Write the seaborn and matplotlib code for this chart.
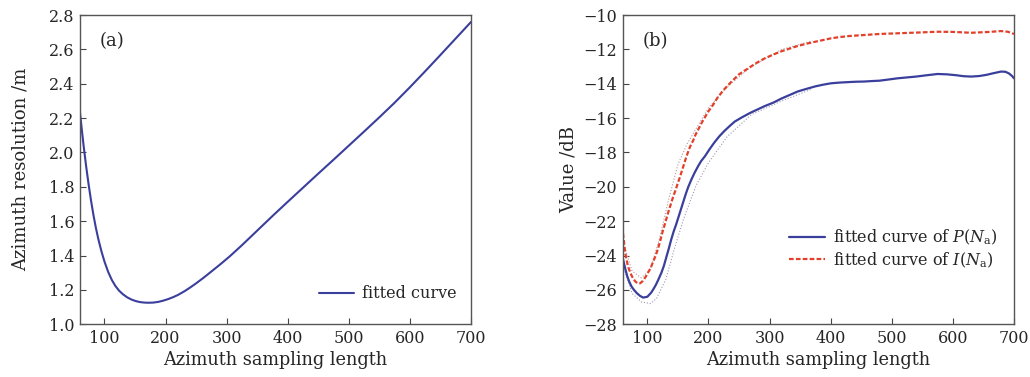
import matplotlib
matplotlib.use("Agg")
import matplotlib.pyplot as plt
import seaborn as sns
import pandas as pd

# panel (a): azimuth resolution vs sampling length
res_x = [60, 63, 66, 70, 74, 78, 82, 86, 90, 95, 100, 106, 112, 118, 124, 130, 137, 144,
         151, 158, 165, 172, 180, 188, 196, 204, 212, 220, 230, 240, 250, 262, 275, 290,
         305, 325, 350, 375, 400, 425, 450, 475, 500, 525, 550, 575, 600, 625, 650, 675,
         700]
res_y = [2.23, 2.13, 2.035, 1.92, 1.815, 1.72, 1.635, 1.56, 1.495, 1.425, 1.365, 1.305,
         1.258, 1.222, 1.195, 1.175, 1.157, 1.144, 1.135, 1.129, 1.126, 1.125, 1.126,
         1.13, 1.137, 1.146, 1.157, 1.17, 1.19, 1.213, 1.238, 1.27, 1.307, 1.35, 1.395,
         1.46, 1.545, 1.63, 1.713, 1.795, 1.877, 1.958, 2.04, 2.122, 2.205, 2.29, 2.38,
         2.473, 2.568, 2.664, 2.76]

# panel (b): fitted P(Na) and I(Na)
p_x = [60, 64, 67, 70, 74, 78, 83, 88, 93, 100, 106, 110, 114, 118, 123, 127, 131, 135,
       139, 143, 147, 151, 155, 159, 163, 167, 172, 177, 183, 188, 194, 202, 210, 218,
       226, 235, 243, 255, 268, 280, 292, 306, 320, 333, 346, 360, 375, 388, 401, 415,
       430, 442, 455, 468, 480, 495, 510, 525, 540, 558, 575, 590, 605, 618, 630, 643,
       655, 667, 679, 686, 692, 697, 700]
p_y = [-24.2, -24.8, -25.2, -25.5, -25.8, -26.0, -26.2, -26.35, -26.45, -26.4, -26.17,
       -25.95, -25.7, -25.4, -25.0, -24.6, -24.1, -23.6, -23.07, -22.6, -22.2, -21.75,
       -21.3, -20.85, -20.4, -20.0, -19.58, -19.2, -18.8, -18.5, -18.23, -17.8, -17.4,
       -17.05, -16.75, -16.45, -16.2, -15.95, -15.7, -15.5, -15.3, -15.1, -14.85, -14.65,
       -14.45, -14.3, -14.15, -14.05, -13.97, -13.93, -13.9, -13.88, -13.87, -13.84,
       -13.82, -13.75, -13.68, -13.63, -13.58, -13.5, -13.43, -13.45, -13.5, -13.56,
       -13.58, -13.55, -13.48, -13.38, -13.29, -13.3, -13.4, -13.55, -13.68]
i_x = [60, 64, 68, 72, 76, 80, 84, 88, 92, 97, 101, 105, 109, 113, 117, 121, 125, 130,
       134, 138, 142, 146, 150, 154, 158, 162, 166, 170, 175, 179, 183, 190, 200, 208,
       215, 225, 237, 250, 265, 278, 292, 306, 320, 333, 346, 360, 375, 388, 401, 415,
       430, 455, 480, 510, 540, 575, 600, 630, 660, 679, 690, 700]
i_y = [-22.7, -23.9, -24.6, -25.0, -25.3, -25.5, -25.62, -25.62, -25.5, -25.25, -25.0,
       -24.75, -24.4, -24.05, -23.65, -23.15, -22.6, -22.0, -21.5, -21.05, -20.6, -20.2,
       -19.77, -19.35, -18.9, -18.45, -18.03, -17.65, -17.3, -16.95, -16.68, -16.2,
       -15.6, -15.2, -14.8, -14.35, -13.9, -13.45, -13.1, -12.8, -12.52, -12.3, -12.1,
       -11.95, -11.8, -11.67, -11.55, -11.45, -11.35, -11.28, -11.22, -11.16, -11.1,
       -11.06, -11.02, -10.97, -10.98, -11.03, -10.98, -10.93, -10.97, -11.1]

# faint measured points around the fits
mi_x = [60, 75, 90, 105, 120, 135, 150, 165, 180, 200, 230, 270, 320, 370]
mi_y = [-23.2, -24.9, -25.3, -24.8, -23.0, -20.7, -18.7, -17.5, -16.6, -15.4, -14.2,
        -13.0, -12.0, -11.5]
mp_x = [60, 75, 90, 105, 115, 130, 145, 160, 180, 200, 230, 270, 320, 370]
mp_y = [-24.6, -26.2, -26.7, -26.8, -26.5, -25.4, -23.5, -21.8, -19.9, -18.6, -17.1,
        -15.8, -15.0, -14.3]

sns.set_theme(style="ticks")
plt.rcParams['font.family'] = ['DejaVu Serif']
plt.rcParams['mathtext.fontset'] = 'dejavuserif'

BLUE = '#3a3f9c'
RED = '#e2402a'

fig = plt.figure(figsize=(10.3, 3.77), dpi=100)
axA = fig.add_axes([0.0777, 0.140, 0.3796, 0.820])
axB = fig.add_axes([0.6048, 0.140, 0.3796, 0.820])

dfA = pd.DataFrame({'x': res_x, 'y': res_y})
sns.lineplot(data=dfA, x='x', y='y', ax=axA, color=BLUE, lw=1.5, label='fitted curve')

sns.lineplot(x=mp_x, y=mp_y, ax=axB, color='#9a9ab8', lw=0.8, linestyle=':', legend=False)
sns.lineplot(x=mi_x, y=mi_y, ax=axB, color='#b09aa0', lw=0.8, linestyle=':', legend=False)
dfP = pd.DataFrame({'x': p_x, 'y': p_y})
dfI = pd.DataFrame({'x': i_x, 'y': i_y})
sns.lineplot(data=dfP, x='x', y='y', ax=axB, color=BLUE, lw=1.6,
             label=r'fitted curve of $P$($N_{\rm a}$)')
sns.lineplot(data=dfI, x='x', y='y', ax=axB, color=RED, lw=1.6, linestyle=(0, (2.1, 1.0)),
             label=r'fitted curve of $I$($N_{\rm a}$)')

for ax in (axA, axB):
    ax.set_xlim(60, 700)
    ax.set_xticks([100, 200, 300, 400, 500, 600, 700])
    ax.tick_params(direction='in', length=4, width=0.8, labelsize=11.5, color='#444444', pad=4)
    for s in ax.spines.values():
        s.set_color('#555555')
        s.set_linewidth(1.0)
    ax.set_xlabel('Azimuth sampling length', fontsize=12.8, labelpad=3)

axA.set_ylim(1.0, 2.8)
axA.set_yticks([1.0, 1.2, 1.4, 1.6, 1.8, 2.0, 2.2, 2.4, 2.6, 2.8])
axA.set_yticklabels(['%.1f' % v for v in axA.get_yticks()])
axA.set_ylabel('Azimuth resolution /m', fontsize=13, labelpad=14)
axA.text(0.05, 0.90, '(a)', transform=axA.transAxes, fontsize=13)
axA.legend(loc='lower right', bbox_to_anchor=(1.0, 0.024), frameon=False, fontsize=11.5,
           handlelength=2.2, handletextpad=0.5)

axB.set_ylim(-28, -10)
axB.set_yticks(list(range(-28, -9, 2)))
axB.set_ylabel('Value /dB', fontsize=13, labelpad=4)
axB.text(0.05, 0.90, '(b)', transform=axB.transAxes, fontsize=13)
axB.legend(loc='lower right', bbox_to_anchor=(0.995, 0.13), frameon=False, fontsize=11.5,
           handlelength=2.2, handletextpad=0.5, labelspacing=0.2)

fig.savefig('out.png', dpi=100)
